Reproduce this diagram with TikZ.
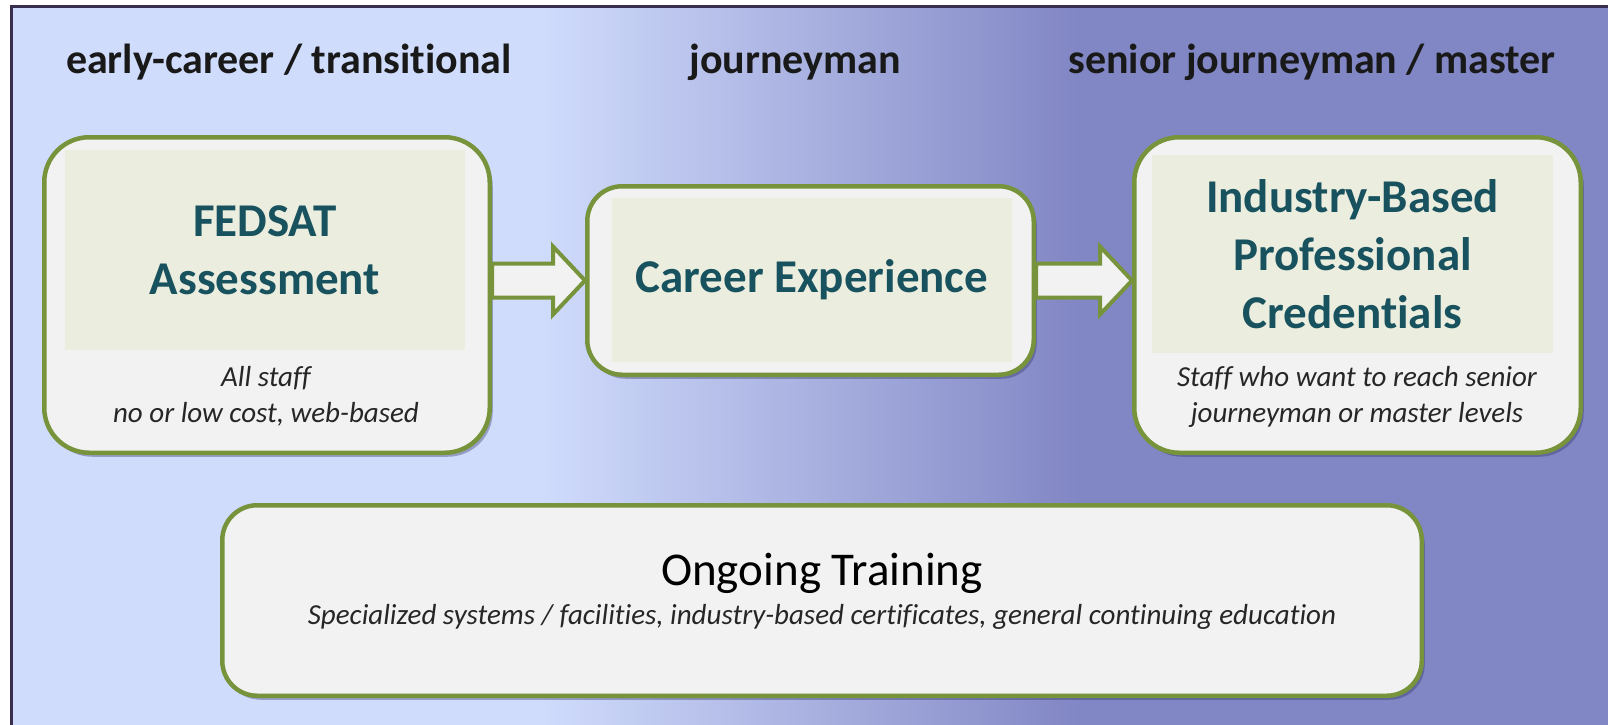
\documentclass[tikz,border=0pt]{standalone}
\usepackage{fontspec}
\setmainfont[Ligatures=NoCommon]{Carlito}
\usetikzlibrary{calc,shadows}
\definecolor{lightbg}{RGB}{208,220,252}
\definecolor{darkbg}{RGB}{129,134,196}
\definecolor{framecol}{RGB}{58,46,78}
\definecolor{olivegreen}{RGB}{119,147,60}
\definecolor{boxfill}{RGB}{242,242,242}
\definecolor{tintfill}{RGB}{235,237,222}
\definecolor{titlecol}{RGB}{24,82,94}
\definecolor{shadowcol}{RGB}{40,40,95}
\tikzset{
  stage/.style={draw=olivegreen, line width=4.5pt, fill=boxfill, inner sep=0pt,
    rounded corners=#1,
    drop shadow={shadow xshift=3pt, shadow yshift=-4pt, opacity=0.35, fill=shadowcol}},
  stagetitle/.style={fill=tintfill, inner sep=0pt, align=center, text=titlecol,
    font=\fontsize{47}{58}\selectfont\bfseries},
  stagenote/.style={align=center, text=black!85, font=\fontsize{29}{36}\selectfont\itshape},
  levelhead/.style={text=black!90, font=\fontsize{42}{50}\selectfont\bfseries},
  flowarrow/.style={draw=olivegreen, line width=4pt, fill=boxfill, line join=miter}
}
\begin{document}
\begin{tikzpicture}[x=1pt, y=-1pt]
    \useasboundingbox (0,0) rectangle (1608,725);
    \fill[lightbg] (13,8) rectangle (541,725);
    \shade[left color=lightbg, right color=darkbg] (540,8) rectangle (1081,725);
    \fill[darkbg] (1080,8) rectangle (1608,725);
    \draw[framecol, line width=3pt] (11.5,725) -- (11.5,6.5) -- (1608,6.5);

    \node[levelhead] (early) at (289,62) {early-career / transitional};
    \node[levelhead] (journey) at (795,62) {journeyman};
    \node[levelhead] (senior) at (1312,62) {senior journeyman / master};

    \node[stage=45, minimum width=445.5pt, minimum height=315.5pt] (fed) at (267,295) {};
    \node[stagetitle, minimum width=400pt, minimum height=200pt] (fedtitle) at (265,250) {FEDSAT\\Assessment};
    \node[stagenote] (fednote) at (266,396) {All staff\\no or low cost, web-based};

    \node[stage=35, minimum width=446.5pt, minimum height=188.5pt] (car) at (810.5,280.5) {};
    \node[stagetitle, minimum width=400pt, minimum height=164pt] (cartitle) at (812,280) {Career Experience};

    \node[stage=45, minimum width=446.5pt, minimum height=315.5pt] (ind) at (1357.5,295) {};
    \node[stagetitle, minimum width=401pt, minimum height=198pt] (indtitle) at (1352.5,254) {Industry-Based\\Professional\\Credentials};
    \node[stagenote] (indnote) at (1357,397) {Staff who want to reach senior\\journeyman or master levels};

    \node[stage=35, minimum width=1199.5pt, minimum height=190.5pt] (ongoing) at (822,600.5) {};
    \node[font=\fontsize{47}{56}\selectfont] (ongtitle) at (822,573) {Ongoing Training};
    \node[stagenote] (ongnote) at (822,617) {Specialized systems / facilities, industry-based certificates, general continuing education};

    \draw[flowarrow] ($(fed.east |- car.west)+(0,-17)$) -- ($(car.west)+(-32,-17)$) -- ($(car.west)+(-32,-34)$)
        -- (car.west) -- ($(car.west)+(-32,34)$) -- ($(car.west)+(-32,17)$) -- ($(fed.east |- car.west)+(0,17)$) -- cycle;
    \draw[flowarrow] ($(car.east)+(0,-17)$) -- ($(ind.west |- car.east)+(-32,-17)$) -- ($(ind.west |- car.east)+(-32,-34)$)
        -- (ind.west |- car.east) -- ($(ind.west |- car.east)+(-32,34)$) -- ($(ind.west |- car.east)+(-32,17)$) -- ($(car.east)+(0,17)$) -- cycle;
\end{tikzpicture}
\end{document}
